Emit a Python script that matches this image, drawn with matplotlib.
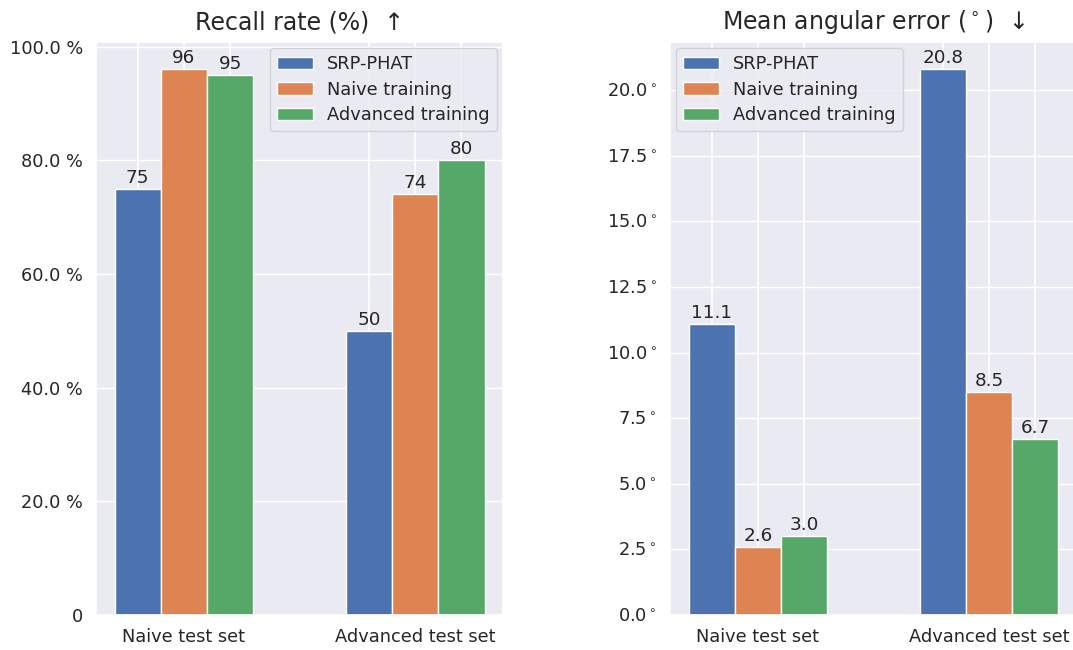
import numpy as np
import matplotlib
matplotlib.use("Agg")
import matplotlib.pyplot as plt
import matplotlib.ticker as mticker
import seaborn as sns

groups = ["Naive test set", "Advanced test set"]
methods = ["SRP-PHAT", "Naive training", "Advanced training"]
recall = {
    "SRP-PHAT": [75, 50],
    "Naive training": [96, 74],
    "Advanced training": [95, 80],
}
angular = {
    "SRP-PHAT": [11.1, 20.8],
    "Naive training": [2.6, 8.5],
    "Advanced training": [3.0, 6.7],
}

sns.set_theme(style="darkgrid")
plt.rcParams['font.family'] = ['DejaVu Sans']
colors = sns.color_palette("deep")[:3]

FS = 12.8

fig = plt.figure(figsize=(10.73, 6.5), dpi=100)
ax1 = fig.add_axes([96/1073, 35/650, 407/1073, 573/650])
ax2 = fig.add_axes([670/1073, 35/650, 407/1073, 573/650])

x = np.arange(len(groups))
w = 0.2

def draw(ax, data, fmt):
    for i, m in enumerate(methods):
        bars = ax.bar(x + (i - 1) * w, data[m], w, label=m, color=colors[i])
        ax.bar_label(bars, fmt=fmt, padding=1.5, fontsize=13.2)
    ax.set_xticks(x)
    ax.set_xticklabels(groups, fontsize=FS)
    ax.set_xticks(np.concatenate([x - w, x + w]), minor=True)
    ax.grid(True, which='both', axis='x', color='white', linewidth=1.2)
    ax.tick_params(axis='y', labelsize=FS)
    ax.tick_params(which='minor', length=0)

draw(ax1, recall, "%.0f")
draw(ax2, angular, "%.1f")

ax1.yaxis.set_major_formatter(mticker.FuncFormatter(lambda v, p: "0" if v == 0 else f"{v:.1f} %"))
ax2.yaxis.set_major_locator(mticker.MultipleLocator(2.5))
ax2.yaxis.set_major_formatter(mticker.FuncFormatter(lambda v, p: f"{v:.1f}" + r"$^\circ$"))

ax1.set_title("Recall rate (%)  \u2191", fontsize=17, pad=9)
ax2.set_title(r"Mean angular error ($^\circ$)  " + "\u2193", fontsize=17, pad=9)

ax1.legend(loc="upper right", fontsize=FS, borderaxespad=0.35, labelspacing=0.42)
ax2.legend(loc="upper left", fontsize=FS, borderaxespad=0.35, labelspacing=0.42)

fig.savefig("out.png", dpi=100)
